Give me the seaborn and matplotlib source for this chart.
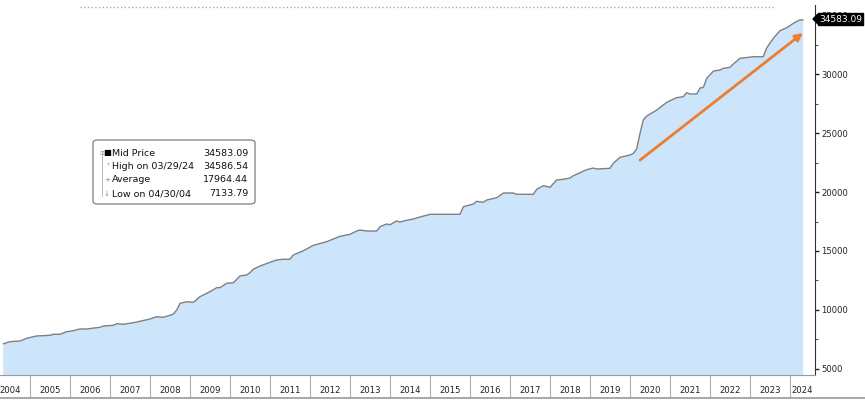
import matplotlib.pyplot as plt
import matplotlib.dates as mdates
import matplotlib.ticker as mticker
from matplotlib.lines import Line2D
from matplotlib.patches import FancyBboxPatch, Polygon
import pandas as pd
import seaborn as sns

# Mid price history
dates = [
    "2004-04-30", "2004-07-01", "2004-10-01", "2004-12-01", "2005-03-01", "2005-07-01",
    "2005-08-01", "2005-10-01", "2005-12-01", "2006-02-01", "2006-04-01", "2006-06-01",
    "2006-10-01", "2006-11-01", "2007-02-01", "2007-03-01", "2007-05-01", "2007-08-01",
    "2007-10-01", "2008-01-01", "2008-03-01", "2008-05-01", "2008-07-01", "2008-08-01",
    "2008-09-01", "2008-10-01", "2008-12-01", "2009-02-01", "2009-04-01", "2009-07-01",
    "2009-09-01", "2009-10-01", "2009-12-01", "2010-02-01", "2010-04-01", "2010-06-01",
    "2010-07-01", "2010-08-01", "2010-10-01", "2011-01-01", "2011-03-01", "2011-05-01",
    "2011-07-01", "2011-08-01", "2011-11-01", "2012-02-01", "2012-06-01", "2012-08-01",
    "2012-10-01", "2013-01-01", "2013-03-01", "2013-04-01", "2013-06-01", "2013-09-01",
    "2013-10-01", "2013-12-01", "2014-01-01", "2014-03-01", "2014-04-01", "2014-06-01",
    "2014-08-01", "2014-10-01", "2015-01-01", "2015-10-01", "2015-11-01", "2016-02-01",
    "2016-03-01", "2016-05-01", "2016-06-01", "2016-09-01", "2016-11-01", "2017-02-01",
    "2017-03-01", "2017-08-01", "2017-09-01", "2017-11-01", "2018-01-01", "2018-03-01",
    "2018-05-01", "2018-07-01", "2018-08-01", "2018-10-01", "2018-12-01", "2019-02-01",
    "2019-03-01", "2019-07-01", "2019-08-01", "2019-10-01", "2020-01-01", "2020-02-01",
    "2020-03-01", "2020-04-01", "2020-05-01", "2020-06-01", "2020-09-01", "2020-12-01",
    "2021-03-01", "2021-05-01", "2021-06-01", "2021-07-01", "2021-09-01", "2021-10-01",
    "2021-11-01", "2021-12-01", "2022-02-01", "2022-04-01", "2022-05-01", "2022-07-01",
    "2022-08-01", "2022-10-01", "2023-02-01", "2023-05-01", "2023-06-01", "2023-08-01",
    "2023-10-01", "2023-12-01", "2024-02-01", "2024-03-29", "2024-04-30",
]
prices = [
    7134, 7314, 7373, 7602, 7797, 7856,
    7941, 7941, 8161, 8246, 8390, 8390,
    8534, 8644, 8703, 8839, 8788, 8924,
    9042, 9237, 9432, 9381, 9551, 9661,
    10000, 10568, 10703, 10653, 11127, 11551,
    11890, 11890, 12263, 12314, 12881, 12966,
    13161, 13449, 13729, 14042, 14237, 14297,
    14297, 14661, 15025, 15483, 15788, 16017,
    16246, 16415, 16695, 16780, 16695, 16695,
    17060, 17288, 17229, 17543, 17458, 17602,
    17712, 17881, 18110, 18110, 18754, 18983,
    19212, 19127, 19322, 19517, 19915, 19915,
    19805, 19805, 20229, 20534, 20399, 21017,
    21077, 21186, 21381, 21636, 21890, 22034,
    21949, 22008, 22432, 22941, 23136, 23280,
    23644, 24975, 26102, 26441, 26949, 27602,
    27992, 28077, 28416, 28305, 28305, 28814,
    28873, 29636, 30254, 30339, 30483, 30568,
    30847, 31330, 31466, 31466, 32203, 33025,
    33669, 33924, 34297, 34587, 34583,
]
years = list(range(2004, 2025))
yticks = [5000, 10000, 15000, 20000, 25000, 30000, 35000]

legend_labels = ["Mid Price", "High on 03/29/24", "Average", "Low on 04/30/04"]
legend_values = ["34583.09", "34586.54", "17964.44", "7133.79"]
legend_marks = ["■", "ᵀ", "+", "↓"]
last_price = "34583.09"

# trend arrow
arrow_start = ("2020-04-01", 22700)
arrow_end = ("2024-04-28", 33480)

df = pd.DataFrame({"date": pd.to_datetime(dates), "price": prices})

sns.set_style("white")
plt.rcParams["font.family"] = ["DejaVu Sans"]

W, H = 865, 404


def fx(px):
    return px / W


def fy(py):
    return 1 - py / H


fig = plt.figure(figsize=(W / 100, H / 100), dpi=100)
ax = fig.add_axes([0, fy(375), fx(815), fy(5) - fy(375)])

ax.fill_between(df["date"], df["price"], 0, color="#cce5fb", lw=0)
sns.lineplot(data=df, x="date", y="price", ax=ax, color="#808080", lw=1)

d = lambda s: mdates.date2num(pd.Timestamp(s))
x_right = d("2024-08-16")
ax.set_xlim(d("2004-04-01"), x_right)
ax.set_ylim(4490, 35850)
ax.set_xlabel("")
ax.set_ylabel("")

ax.annotate("", xy=(d(arrow_end[0]), arrow_end[1]), xytext=(d(arrow_start[0]), arrow_start[1]),
            arrowprops=dict(arrowstyle="-|>", color="#ed7d31", lw=2, mutation_scale=11,
                            shrinkA=0, shrinkB=0))

# x axis: year separators + centred year labels
ax.set_xticks([d(f"{y}-01-01") for y in years[1:]])
ax.set_xticklabels([])
mids = [d(f"{y}-07-01") for y in years[:-1]]
mids.append((d("2024-01-01") + x_right) / 2)
ax.set_xticks(mids, minor=True)
ax.set_xticklabels([str(y) for y in years], minor=True)
ax.tick_params(axis="x", which="major", bottom=True, length=16.5, width=0.8, color="#b0b0b0")
ax.tick_params(axis="x", which="minor", bottom=True, length=0, pad=8, labelsize=6.1,
               labelcolor="#222222")

# y axis on the right
ax.yaxis.tick_right()
ax.set_yticks(yticks)
ax.set_yticklabels([str(v) for v in yticks])
ax.yaxis.set_minor_locator(mticker.MultipleLocator(2500))
ax.tick_params(axis="y", which="both", left=False, right=True)
ax.tick_params(axis="y", which="major", length=3, width=1, pad=1.5, labelsize=6.1,
               color="#222222", labelcolor="#222222")
ax.tick_params(axis="y", which="minor", length=2, width=0.8, color="#555555")

ax.spines[["top", "left"]].set_visible(False)
ax.spines["right"].set_color("#333333")
ax.spines["bottom"].set_color("#999999")

# decorations
fig.add_artist(Line2D([fx(80), fx(775)], [fy(7), fy(7)], color="#aaaaaa", ls=":", lw=1))
fig.add_artist(Line2D([0, 1], [fy(398), fy(398)], color="#9a9a9a", lw=1.2))

# legend box
box = FancyBboxPatch((fx(93), fy(204)), fx(255) - fx(93), fy(140) - fy(204),
                     boxstyle="round,pad=0,rounding_size=0.006", transform=fig.transFigure,
                     fc="white", ec="#8c8c8c", lw=1, zorder=5)
fig.add_artist(box)
fig.add_artist(Line2D([fx(101.5), fx(101.5)], [fy(151), fy(196)], color="#bbbbbb", lw=0.7, zorder=6))
rows = [153, 167, 180, 194]
for row, lab, val, mark in zip(rows, legend_labels, legend_values, legend_marks):
    fig.text(fx(112), fy(row), lab, ha="left", va="center", fontsize=6.8, color="#111111", zorder=7)
    fig.text(fx(248), fy(row), val, ha="right", va="center", fontsize=6.8, color="#111111", zorder=7)
    if mark == "■":
        fig.text(fx(107), fy(row), mark, ha="center", va="center", fontsize=6, color="black", zorder=7)
        fig.text(fx(101.5), fy(row), "▫", ha="center", va="center", fontsize=5, color="#888888", zorder=7)
    else:
        fig.text(fx(107), fy(row), mark, ha="center", va="center", fontsize=5, color="#888888", zorder=7)

# last price tag on the right axis
fig.add_artist(Polygon([[fx(813), fy(19)], [fx(818), fy(14)], [fx(818), fy(24)]],
                       closed=True, transform=fig.transFigure, fc="black", ec="black", zorder=8))
fig.text(fx(819), fy(19), last_price, ha="left", va="center", fontsize=6.5, color="white", zorder=9,
         bbox=dict(boxstyle="square,pad=0.15", fc="black", ec="black"))

fig.savefig("out.png", dpi=100)
